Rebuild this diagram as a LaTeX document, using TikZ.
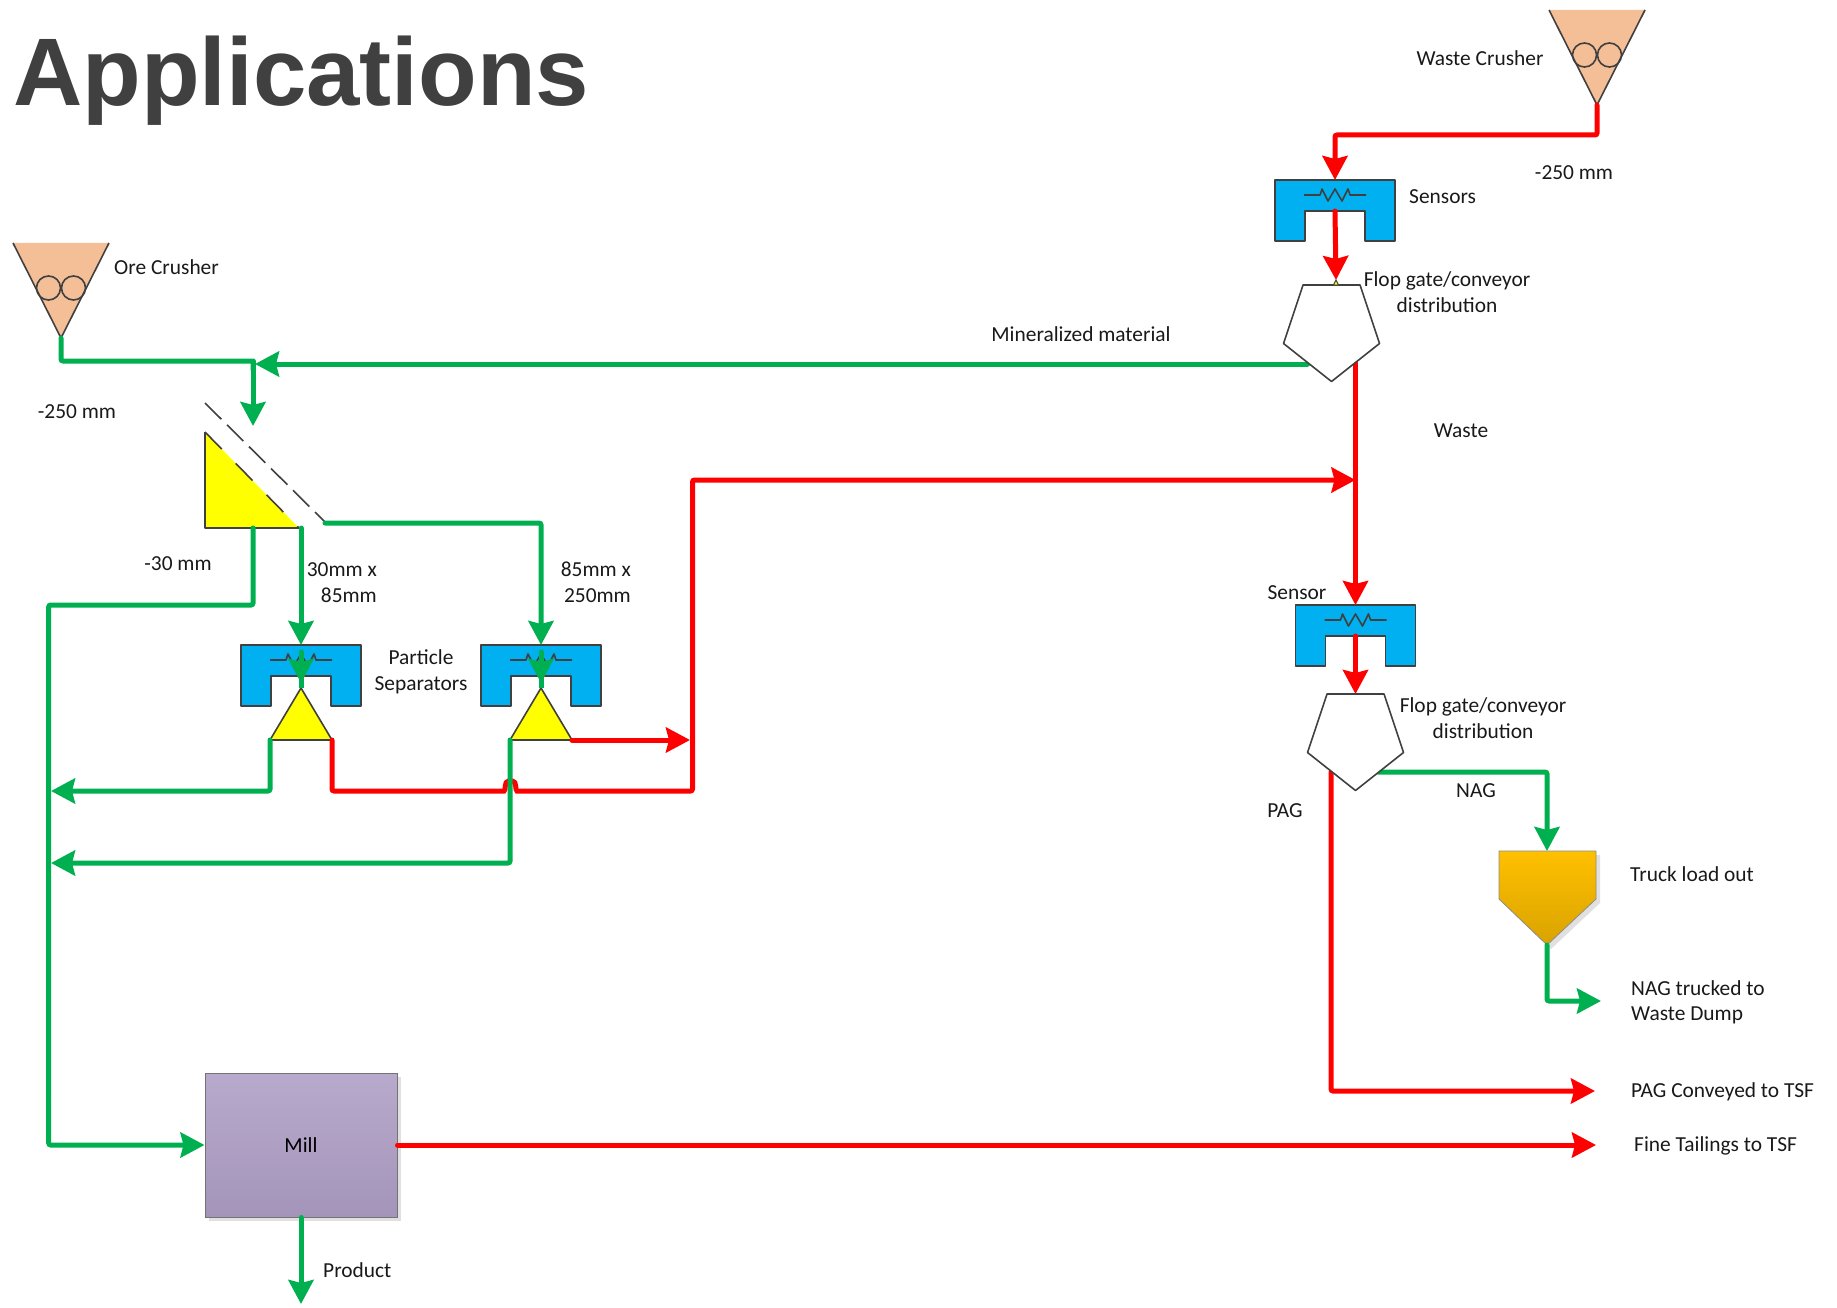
\documentclass[tikz,border=0pt]{standalone}
\usepackage{xcolor}
\usepackage{fontspec}
\setmainfont{Carlito}
\newfontfamily\titlefont{Liberation Sans}
\usetikzlibrary{arrows.meta, calc, shadows}
\definecolor{flowgreen}{HTML}{00B050}
\definecolor{flowred}{HTML}{FF0000}
\definecolor{sensorblue}{HTML}{00B0F0}
\definecolor{crusherpeach}{HTML}{F4BE96}
\definecolor{splityellow}{HTML}{FFFF00}
\definecolor{outline}{HTML}{404040}
\definecolor{titlegrey}{HTML}{404040}
\tikzset{
  greenflow/.style={draw=flowgreen, line width=5pt, line cap=round, rounded corners=2pt},
  redflow/.style={draw=flowred, line width=5pt, line cap=round, rounded corners=2pt},
  tip/.style={-{Stealth[length=24pt, width=25pt, inset=3pt]}},
  border/.style={draw=outline, line width=1.6pt, line join=round},
  flatshadow/.style={drop shadow={shadow xshift=4pt, shadow yshift=-4pt, fill=black!12, opacity=1}},
  lbl/.style={inner sep=0pt, anchor=base, text=black!90},
  lblw/.style={lbl, anchor=base west},
  lble/.style={lbl, anchor=base east},
  crusher/.pic={
    \fill[crusherpeach] (-48,-95) -- (48,-95) -- (0,0) -- cycle;
    \draw[border] (-48,-95) -- (0,0) -- (48,-95);
    \foreach \side in {-12.5, 12.5}
      \draw[border] (\side,-50) circle (12pt);
    \coordinate (-out) at (0,0);
  },
  sensor/.pic={
    \filldraw[border, fill=sensorblue] (-60,0) -- (60,0) -- (60,61) -- (30,61) -- (30,31)
      -- (-30,31) -- (-30,61) -- (-60,61) -- cycle;
    \draw[border] (-31,15) -- (-15,15) -- (-13,9) -- (-7,21) -- (0,9) -- (7,21) -- (13,9) -- (15,15) -- (31,15);
    \coordinate (-in) at (0,0);
    \coordinate (-mid) at (0,31);
    \coordinate (-coil) at (0,15);
  },
  flopgate/.pic={
    \filldraw[border, fill=white] (-28.5,0) -- (28.5,0) -- (48,58.5) -- (0,96.5) -- (-48,58.5) -- cycle;
    \coordinate (-in) at (0,0);
    \coordinate (-sw) at (-24,78);
    \coordinate (-se) at (24,78);
  },
  cone/.pic={
    \filldraw[border, fill=splityellow] (0,0) -- (31,52) -- (-31,52) -- cycle;
    \coordinate (-apex) at (0,0);
    \coordinate (-left) at (-31,52);
    \coordinate (-right) at (31,52);
  },
}
\begin{document}
\begin{tikzpicture}[x=1pt, y=-1pt, font=\fontsize{21.4}{25}\selectfont]
  \useasboundingbox (0,0) rectangle (1837,1308);

  \node[inner sep=0pt, anchor=base west, text=titlegrey, font=\titlefont\bfseries\fontsize{96}{96}\selectfont] (title) at (13,106) {Applications};

  % equipment
  \pic (orecrusher) at (61,338) {crusher};
  \pic (wastecrusher) at (1597,105) {crusher};
  \foreach \nm/\px/\py in {topsensor/1335/180, lowsensor/1355.5/605, sepa/301/645, sepb/541/645}
    \pic (\nm) at (\px,\py) {sensor};

  % screen deck
  \fill[splityellow] (205,432) -- (299,528) -- (205,528) -- cycle;
  \draw[border] (205,432) -- (205,528) -- (299,528);
  \draw[border, dash pattern=on 24pt off 20pt] (205,432) -- (299,528);
  \draw[border, dash pattern=on 23pt off 8pt] (205,403) -- (325,522);
  \coordinate (screenin) at (253,426);
  \coordinate (screenfine) at (253,528);
  \coordinate (screenmid) at (301,528);
  \coordinate (screencoarse) at (325,523);

  % hopper
  \shade[top color={rgb,255:red,255;green,192;blue,0}, bottom color={rgb,255:red,217;green,163;blue,0},
    draw=black!45, line width=0.8pt, flatshadow] (1499,851) -- (1596,851) -- (1596,899) -- (1547,945) -- (1499,899) -- cycle;
  \coordinate (hopperin) at (1547,851);
  \coordinate (hopperout) at (1547,945);

  \node[draw=black!55, line width=1pt, minimum width=192pt, minimum height=144pt, inner sep=0pt, flatshadow,
    top color={rgb,255:red,184;green,170;blue,204}, bottom color={rgb,255:red,164;green,148;blue,186}] (mill) at (301,1145) {Mill};

  % junctions and free ends
  \coordinate (mineraljoin) at (253,361);
  \coordinate (mineralend) at (255,364);
  \coordinate (fineleft) at (48.7,605);
  \coordinate (millfeed) at (48.7,1145);
  \coordinate (collectora) at (51,791);
  \coordinate (collectorb) at (51,863);
  \coordinate (hopleft) at (502,791);
  \coordinate (hoptop) at (510.5,781);
  \coordinate (hopright) at (519,791);
  \coordinate (riser) at (692.5,480);
  \coordinate (wastejoin) at (1355.5,480);
  \coordinate (riserin) at (690,740);
  \coordinate (dumpend) at (1601,1001);
  \coordinate (pagend) at (1595,1091);
  \coordinate (tailingsend) at (1596,1145);
  \coordinate (productend) at (301,1304);

  % separators
  \pic (conea) at (301,688) {cone};
  \pic (coneb) at (541,688) {cone};
  \foreach \nm/\cn in {sepa/conea, sepb/coneb} {
    \draw[greenflow, tip] ($(\nm-coil)+(0,-8)$) -- ($(\cn-apex)+(0,-5)$);
    \draw[greenflow, line cap=butt] ($(\cn-apex)+(0,-12)$) -- (\cn-apex);
  }

  % waste side
  \coordinate (gatea) at (1331.5,285);
  \coordinate (gateb) at (1355.5,694);
  \draw[redflow, tip] (wastecrusher-out) |- (1335,135) -- (topsensor-in);
  \draw[redflow, tip] (topsensor-mid) -- (1336,280);
  \draw[redflow, tip] ($(gatea)+(24,78)$) -- (lowsensor-in);
  \draw[redflow, tip] (lowsensor-mid) -- (gateb);
  \draw[redflow, tip] ($(gateb)+(-24.5,78)$) |- (pagend);
  \draw[greenflow, tip] ($(gateb)+(22.5,78)$) -| (hopperin);
  \draw[greenflow, tip] (hopperout) |- (dumpend);
  \draw[redflow, tip] (mill.east) -- (tailingsend);
  \draw[redflow, tip] (coneb-right) -- (riserin);
  \draw[redflow, tip] (conea-right) |- (hopleft) .. controls (506,791) and (504,781) .. (hoptop)
    .. controls (517,781) and (515,791) .. (hopright) -| (riser) -- (wastejoin);

  % ore side
  \draw[greenflow] (orecrusher-out) |- (mineraljoin) -- (253,370);
  \draw[greenflow, tip] (253,361) -- (screenin);
  \draw[greenflow, tip] (1307.5,364) -- (mineralend);
  \draw[greenflow] (screenfine) |- (fineleft) -- (48.7,1100);
  \draw[greenflow, tip] (48.7,1100) |- (mill.west);
  \draw[greenflow, tip] (screenmid) -- (sepa-in);
  \draw[greenflow, tip] (screencoarse) -| (sepb-in);
  \draw[greenflow, tip] (conea-left) |- (collectora);
  \draw[greenflow, tip] (coneb-left) |- (collectorb);
  \draw[greenflow, tip] (mill.south) -- (productend);

  \pic (topgate) at (gatea) {flopgate};
  \pic (lowgate) at (gateb) {flopgate};
  \filldraw[draw=outline, line width=1pt, fill=splityellow] (1336,280) -- (1338.5,285) -- (1333.5,285) -- cycle;

  % labels
  \node[lbl] (wastecrusherlbl) at (1480,66) {Waste Crusher};
  \node[lbl] (wastesize) at (1574,180) {-250 mm};
  \node[lblw] (sensorslbl) at (1409,204) {Sensors};
  \node[lbl] (topflopa) at (1447,287) {Flop gate/conveyor};
  \node[lbl] (topflopb) at (1447,312) {distribution};
  \node[lbl] (minerallbl) at (1081,341) {Mineralized material};
  \node[lbl] (wastelbl) at (1461,437) {Waste};
  \node[lbl] (sensorlbl) at (1297,599) {Sensor};
  \node[lbl] (lowflopa) at (1483,712) {Flop gate/conveyor};
  \node[lbl] (lowflopb) at (1483,738) {distribution};
  \node[lbl] (naglbl) at (1476,797) {NAG};
  \node[lbl] (paglbl) at (1285,817) {PAG};
  \node[lblw] (trucklbl) at (1630,881) {Truck load out};
  \node[lblw] (dumplbla) at (1631,995) {NAG trucked to};
  \node[lblw] (dumplblb) at (1631,1020) {Waste Dump};
  \node[lblw] (paglblb) at (1631,1097) {PAG Conveyed to TSF};
  \node[lblw] (tailingslbl) at (1634,1151) {Fine Tailings to TSF};
  \node[lblw] (productlbl) at (323,1277) {Product};
  \node[lblw] (orecrusherlbl) at (114,274) {Ore Crusher};
  \node[lbl] (oresize) at (77,418) {-250 mm};
  \node[lbl] (finesize) at (178,570) {-30 mm};
  \node[lble] (midsizea) at (377,576) {30mm x};
  \node[lble] (midsizeb) at (377,602) {85mm};
  \node[lble] (coarsesizea) at (631,576) {85mm x};
  \node[lble] (coarsesizeb) at (631,602) {250mm};
  \node[lbl] (particlelbl) at (421,664) {Particle};
  \node[lbl] (separatorlbl) at (421,690) {Separators};
\end{tikzpicture}
\end{document}
